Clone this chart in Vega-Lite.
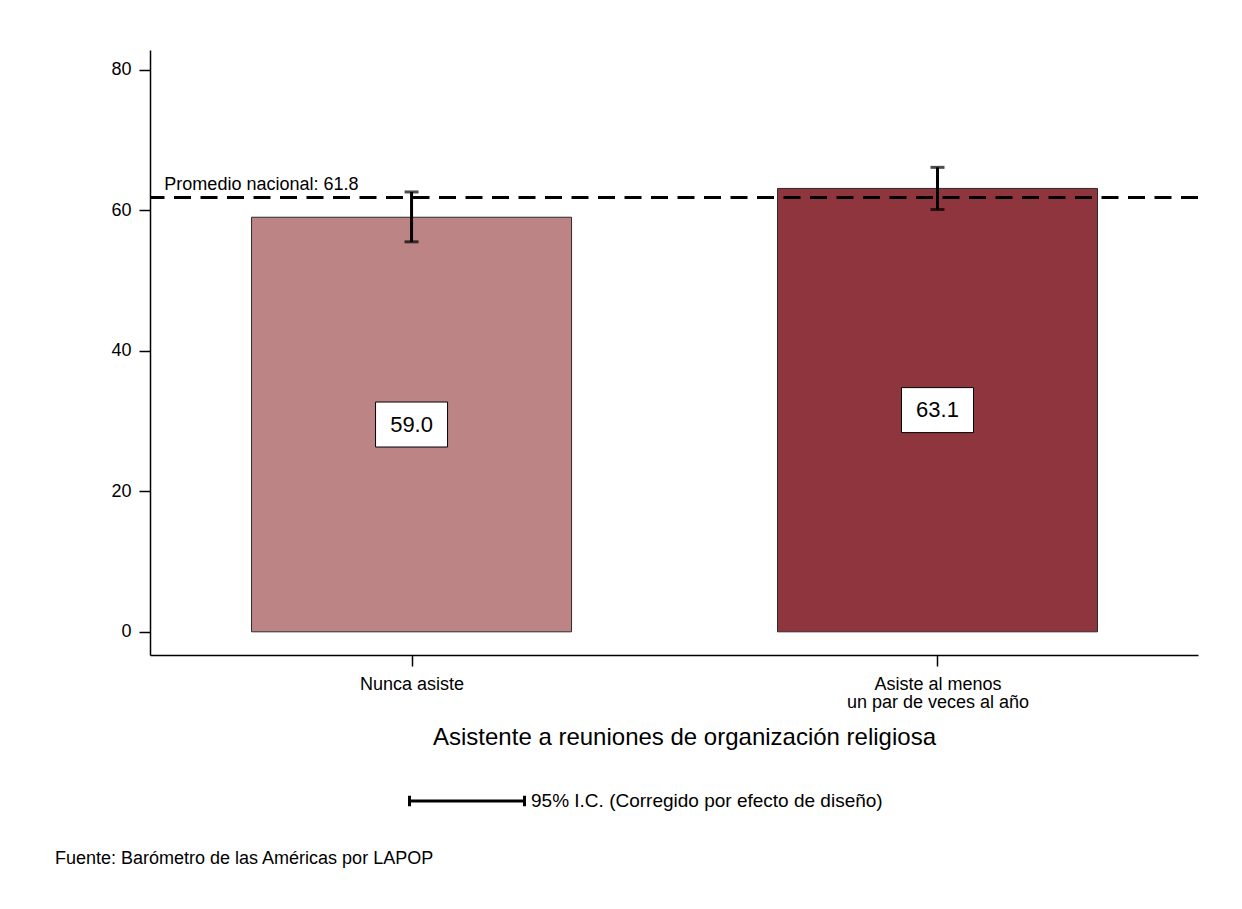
{
  "$schema": "https://vega.github.io/schema/vega-lite/v6.json",
  "width": 1048,
  "height": 605,
  "autosize": {"type": "none"},
  "padding": {"left": 150, "top": 50, "right": 44, "bottom": 254},
  "background": "white",
  "config": {
    "view": {"stroke": null},
    "font": "Liberation Sans",
    "axis": {"domainColor": "black", "domainWidth": 1.5, "tickColor": "black", "tickWidth": 1.5, "labelColor": "black", "titleColor": "black", "grid": false}
  },
  "title": {
    "text": "Fuente: Barómetro de las Américas por LAPOP",
    "orient": "bottom",
    "anchor": "start",
    "frame": "bounds",
    "fontSize": 18,
    "fontWeight": "normal",
    "color": "black",
    "font": "Liberation Sans",
    "offset": 37,
    "dx": -56
  },
  "datasets": {
    "grupos": [
      {"orden": 1, "grupo": "Nunca asiste", "valor": 59.0, "inf": 55.5, "sup": 62.6},
      {"orden": 2, "grupo": "Asiste al menos un par de veces al año", "valor": 63.1, "inf": 60.1, "sup": 66.1}
    ],
    "promedio": [{"valor": 61.8, "texto": "Promedio nacional: 61.8"}]
  },
  "layer": [
    {
      "data": {"name": "grupos"},
      "mark": {"type": "bar", "width": 320, "stroke": "#2b2b2b", "strokeWidth": 1},
      "encoding": {
        "x": {
          "field": "orden", "type": "quantitative",
          "scale": {"domain": [0.5122, 2.4858], "nice": false, "zero": false},
          "axis": {
            "values": [1, 2],
            "labelExpr": "datum.value == 1 ? 'Nunca asiste' : ['Asiste al menos', 'un par de veces al año']",
            "labelFontSize": 18,
            "labelLineHeight": 18,
            "labelLimit": 500,
            "labelPadding": 9,
            "tickSize": 11,
            "title": "Asistente a reuniones de organización religiosa",
            "titleFontSize": 24,
            "titleFontWeight": "normal",
            "titlePadding": 14,
            "titleX": 534
          }
        },
        "y": {
          "field": "valor", "type": "quantitative",
          "scale": {"domain": [-3.3, 82.8], "nice": false, "zero": false},
          "axis": {"values": [0, 20, 40, 60, 80], "title": null, "labelFontSize": 18, "tickSize": 11, "labelPadding": 8}
        },
        "color": {
          "field": "grupo", "type": "nominal",
          "scale": {"domain": ["Nunca asiste", "Asiste al menos un par de veces al año"], "range": ["#BD8486", "#8F353D"]},
          "legend": null
        }
      }
    },
    {
      "data": {"name": "promedio"},
      "mark": {"type": "rule", "strokeDash": [17, 9.5], "strokeWidth": 3, "color": "black"},
      "encoding": {"y": {"field": "valor", "type": "quantitative"}}
    },
    {
      "data": {"name": "promedio"},
      "mark": {"type": "text", "align": "left", "baseline": "bottom", "dy": -4, "fontSize": 18, "color": "black"},
      "encoding": {
        "x": {"datum": 0.53, "type": "quantitative"},
        "y": {"field": "valor", "type": "quantitative"},
        "text": {"field": "texto"}
      }
    },
    {
      "data": {"name": "grupos"},
      "mark": {"type": "rule", "strokeWidth": 3},
      "encoding": {
        "x": {"field": "orden", "type": "quantitative"},
        "y": {"field": "inf", "type": "quantitative"},
        "y2": {"field": "sup"},
        "stroke": {
          "datum": "95% I.C. (Corregido por efecto de diseño)",
          "type": "nominal",
          "scale": {"range": ["black"]},
          "legend": {
            "orient": "none",
            "legendX": 258,
            "legendY": 692,
            "title": null,
            "symbolType": "M-1,0H1M-1,-0.09V0.09M1,-0.09V0.09",
            "symbolSize": 13225,
            "symbolStrokeWidth": 3,
            "symbolStrokeColor": "black",
            "symbolFillColor": "transparent",
            "labelFontSize": 19,
            "labelColor": "black",
            "labelOffset": 5,
            "labelLimit": 600
          }
        }
      }
    },
    {
      "data": {"name": "grupos"},
      "mark": {"type": "tick", "orient": "horizontal", "size": 14, "thickness": 3, "color": "black"},
      "encoding": {
        "x": {"field": "orden", "type": "quantitative"},
        "y": {"field": "inf", "type": "quantitative"}
      }
    },
    {
      "data": {"name": "grupos"},
      "mark": {"type": "tick", "orient": "horizontal", "size": 14, "thickness": 3, "color": "black"},
      "encoding": {
        "x": {"field": "orden", "type": "quantitative"},
        "y": {"field": "sup", "type": "quantitative"}
      }
    },
    {
      "data": {"name": "grupos"},
      "transform": [{"calculate": "datum.valor / 2", "as": "mitad"}],
      "mark": {"type": "point", "shape": "M-1.6,-1H1.6V1H-1.6Z", "size": 2025, "filled": true, "fill": "white", "stroke": "black", "strokeWidth": 1, "opacity": 1},
      "encoding": {
        "x": {"field": "orden", "type": "quantitative"},
        "y": {"field": "mitad", "type": "quantitative"}
      }
    },
    {
      "data": {"name": "grupos"},
      "transform": [{"calculate": "datum.valor / 2", "as": "mitad"}],
      "mark": {"type": "text", "fontSize": 22, "baseline": "middle", "color": "black"},
      "encoding": {
        "x": {"field": "orden", "type": "quantitative"},
        "y": {"field": "mitad", "type": "quantitative"},
        "text": {"field": "valor", "type": "quantitative", "format": ".1f"}
      }
    }
  ]
}
